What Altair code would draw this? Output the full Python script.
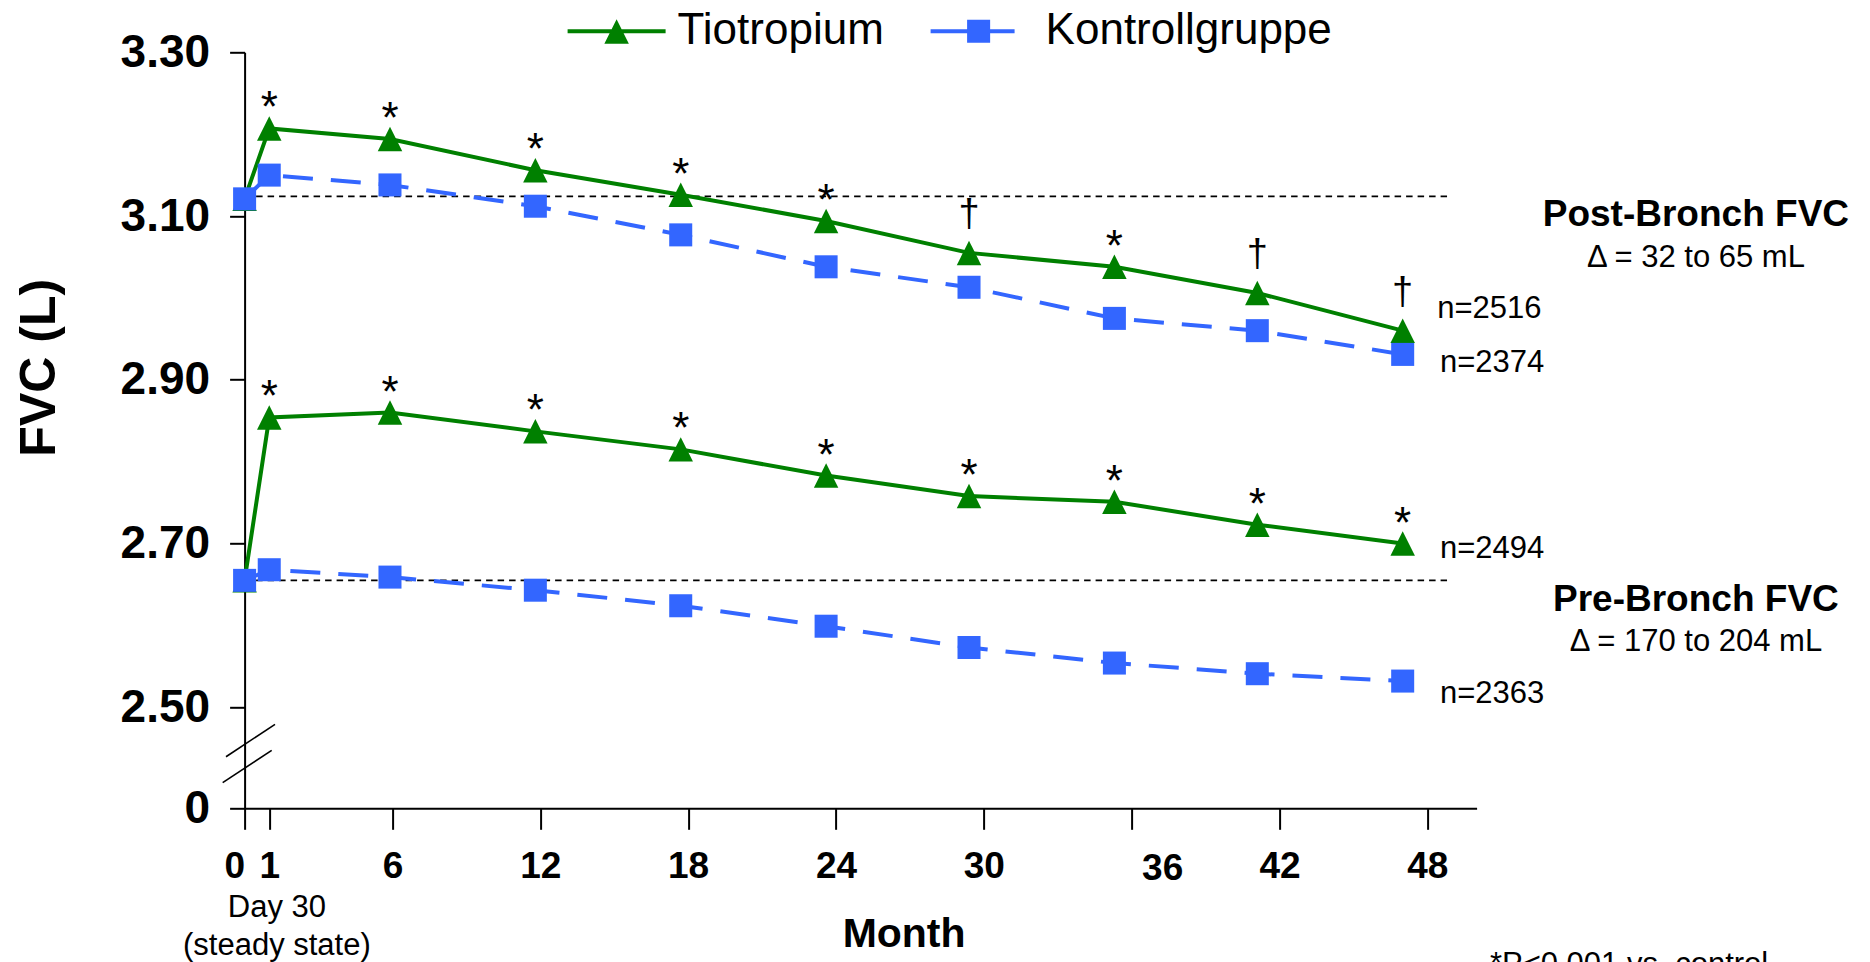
import altair as alt
import pandas as pd

FONT = "Liberation Sans, Arial, Helvetica, sans-serif"
GREEN = "#008000"
BLUE = "#3366ff"

# ---- data ----
months = [0, 1, 5.9, 11.8, 17.7, 23.6, 29.4, 35.3, 41.1, 47.0]
tio_post = [3.121, 3.207, 3.194, 3.156, 3.126, 3.094, 3.055, 3.038, 3.006, 2.960]
ctl_post = [3.121, 3.150, 3.138, 3.112, 3.077, 3.038, 3.013, 2.975, 2.960, 2.931]
tio_pre = [2.655, 2.854, 2.860, 2.837, 2.815, 2.783, 2.758, 2.751, 2.723, 2.700]
ctl_pre = [2.655, 2.668, 2.659, 2.643, 2.624, 2.599, 2.573, 2.554, 2.541, 2.532]
post_sig = ["", "*", "*", "*", "*", "*", "\u2020", "*", "\u2020", "\u2020"]
pre_sig = ["", "*", "*", "*", "*", "*", "*", "*", "*", "*"]

groups = ["Tiotropium", "Kontrollgruppe"]
baseline_values = [3.124, 2.655]
baseline_end = 48.8

x_ticks = [0, 1, 6, 12, 18, 24, 30, 36, 42, 48]
y_zero = 2.3766          # position of the "0" label below the axis break
y_ticks = [y_zero, 2.5, 2.7, 2.9, 3.1, 3.3]

n_labels = ["n=2516", "n=2374", "n=2494", "n=2363"]
n_month = [48.40, 48.51, 48.51, 48.51]
n_fvc = [2.975, 2.9095, 2.6828, 2.5052]

head_labels = ["Post-Bronch FVC", "Pre-Bronch FVC"]
head_fvc = [3.0876, 2.6173]
delta_labels = ["\u0394 = 32 to 65 mL", "\u0394 = 170 to 204 mL"]
delta_fvc = [3.0381, 2.5683]
note_month = 58.9

# ---- tables ----
rows = []
for vals, grp, phase, sig in [(tio_post, "Tiotropium", "post", post_sig),
                              (ctl_post, "Kontrollgruppe", "post", [""] * 10),
                              (tio_pre, "Tiotropium", "pre", pre_sig),
                              (ctl_pre, "Kontrollgruppe", "pre", [""] * 10)]:
    for m, v, s in zip(months, vals, sig):
        rows.append(dict(month=m, fvc=v, group=grp, phase=phase, sig=s))
df = pd.DataFrame(rows)

ref_df = pd.DataFrame({"month": [0, 0], "month2": [baseline_end] * 2, "fvc": baseline_values})
brk_df = pd.DataFrame({"month": [-0.755, -0.889], "month2": [1.234, 1.10],
                       "fvc": [2.4396, 2.4079], "fvc2": [2.4792, 2.4474]})
n_df = pd.DataFrame({"month": n_month, "fvc": n_fvc, "label": n_labels})
head_df = pd.DataFrame({"month": [note_month] * 2, "fvc": head_fvc, "label": head_labels})
delta_df = pd.DataFrame({"month": [note_month] * 2, "fvc": delta_fvc, "label": delta_labels})
day_df = pd.DataFrame({"month": [1.31], "fvc": [2.2434], "label": [["Day 30", "(steady state)"]]})
foot_df = pd.DataFrame({"month": [50.54], "fvc": [2.1742], "label": ["*P<0.001 vs. control"]})
t36_df = pd.DataFrame({"month": [36], "fvc": [y_zero], "label": ["36"]})
leg_df = pd.DataFrame({"group": groups})

# ---- scales / axes ----
xs = alt.Scale(domain=[0, 50], nice=False, zero=False)
ys = alt.Scale(domain=[y_zero, 3.30], nice=False, zero=False)

x_axis = alt.Axis(values=x_ticks, labelExpr="datum.value == 36 ? '' : datum.label",
                  labelOverlap=False, labelFlush=False,
                  labelAlign={"condition": {"test": "datum.value == 0", "value": "right"},
                              "value": "center"},
                  grid=False, domainColor="black", domainWidth=2, tickColor="black",
                  tickWidth=2, tickSize=21, labelPadding=19, labelFont=FONT,
                  labelFontSize=37, labelFontWeight="bold", labelColor="black",
                  title="Month", titleFont=FONT, titleFontSize=41, titleFontWeight="bold",
                  titleColor="black", titleX=659, titleY=138, titleAlign="center",
                  titleBaseline="alphabetic")
y_axis = alt.Axis(values=y_ticks,
                  labelExpr="datum.value < 2.45 ? '0' : format(datum.value, '.2f')",
                  labelOverlap=False, labelFlush=False,
                  grid=False, domainColor="black", domainWidth=2, tickColor="black",
                  tickWidth=2, tickSize=15, labelPadding=20, labelFont=FONT,
                  labelFontSize=46, labelFontWeight="bold", labelColor="black",
                  title="FVC (L)", titleFont=FONT, titleFontSize=50, titleFontWeight="bold",
                  titleColor="black", titleAngle=-90, titleX=-190, titleY=315,
                  titleAlign="center", titleBaseline="alphabetic")

X = alt.X("month:Q", scale=xs, axis=x_axis)
Y = alt.Y("fvc:Q", scale=ys, axis=y_axis)

TRI = "M-1,1L1,1L0,-1Z"

ref_rules = alt.Chart(ref_df).mark_rule(color="black", strokeWidth=1.6, strokeDash=[6.5, 5]).encode(
    x=X, x2="month2:Q", y=Y)
breaks = alt.Chart(brk_df).mark_rule(color="black", strokeWidth=1.6).encode(
    x=X, x2="month2:Q", y=Y, y2="fvc2:Q")

tio = alt.Chart(df).transform_filter(alt.datum.group == "Tiotropium")
ctl = alt.Chart(df).transform_filter(alt.datum.group == "Kontrollgruppe")

tio_line = tio.mark_line(color=GREEN, strokeWidth=4).encode(x=X, y=Y, detail="phase:N")
tio_pts = tio.mark_point(shape=TRI, filled=True, size=600, color=GREEN, opacity=1).encode(
    x=X, y=Y)
ctl_line = ctl.mark_line(color=BLUE, strokeWidth=4, strokeDash=[30, 18]).encode(
    x=X, y=Y, detail="phase:N")
ctl_pts = ctl.mark_point(shape="square", filled=True, size=530, color=BLUE, opacity=1).encode(
    x=X, y=Y)

stars = tio.transform_filter(alt.datum.sig == "*").mark_text(
    font=FONT, fontSize=44, color="black", baseline="alphabetic", dy=-6).encode(
    x=X, y=Y, text="sig:N")
daggers = tio.transform_filter(alt.datum.sig == "\u2020").mark_text(
    font=FONT, fontSize=38, color="black", baseline="alphabetic", dy=-27).encode(
    x=X, y=Y, text="sig:N")

n_text = alt.Chart(n_df).mark_text(font=FONT, fontSize=31, color="black", align="left",
                                   baseline="alphabetic").encode(x=X, y=Y, text="label:N")
head_text = alt.Chart(head_df).mark_text(font=FONT, fontSize=37, fontWeight="bold",
                                         color="black", align="center",
                                         baseline="alphabetic").encode(x=X, y=Y, text="label:N")
delta_text = alt.Chart(delta_df).mark_text(font=FONT, fontSize=31, color="black",
                                           align="center", baseline="alphabetic").encode(
    x=X, y=Y, text="label:N")
day_text = alt.Chart(day_df).mark_text(font=FONT, fontSize=31, color="black", align="center",
                                       baseline="alphabetic", lineHeight=38).encode(
    x=X, y=Y, text="label")
foot_text = alt.Chart(foot_df).mark_text(font=FONT, fontSize=31, color="black", align="left",
                                         baseline="alphabetic").encode(x=X, y=Y, text="label:N")
t36_text = alt.Chart(t36_df).mark_text(font=FONT, fontSize=37, fontWeight="bold",
                                       color="black", align="center", baseline="alphabetic",
                                       dx=31, dy=72).encode(x=X, y=Y, text="label:N")

# legend: line-with-marker symbols as custom paths
GREEN_SYM = "M-1,-0.041L-1,0.041L1,0.041L1,-0.041Z M-0.25,0.255L0.25,0.255L0,-0.245Z"
BLUE_SYM = ("M-1.102,-0.041L-1.102,0.041L0.612,0.041L0.612,-0.041Z "
            "M-0.357,-0.235L-0.357,0.235L0.113,0.235L0.113,-0.235Z")
leg = alt.Legend(title=None, orient="none", legendX=323, legendY=-70, direction="horizontal",
                 symbolSize=9604, symbolStrokeWidth=0, symbolOpacity=1, labelFont=FONT,
                 labelFontSize=44, labelColor="black", labelLimit=600, labelOffset=12,
                 columnPadding=46, padding=0)
legend_layer = alt.Chart(leg_df).transform_filter("false").mark_point(filled=True).encode(
    color=alt.Color("group:N", scale=alt.Scale(domain=groups, range=[GREEN, BLUE]), legend=leg),
    shape=alt.Shape("group:N", scale=alt.Scale(domain=groups, range=[GREEN_SYM, BLUE_SYM]),
                    legend=leg),
)

chart = alt.layer(
    ref_rules, breaks, tio_line, tio_pts, ctl_line, ctl_pts, stars, daggers,
    n_text, head_text, delta_text, day_text, foot_text, t36_text, legend_layer
).properties(
    width=1232, height=756,
    autosize=alt.AutoSizeParams(type="none"),
    padding={"left": 236.6, "top": 44.3, "right": 385.4, "bottom": 153.7},
    background="white",
).configure_view(stroke=None)

chart.save("out.html", embed_options={"renderer": "svg", "actions": False})
